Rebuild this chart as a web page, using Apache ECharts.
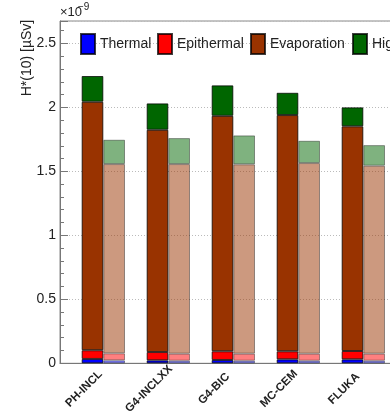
<!DOCTYPE html>
<html>
<head>
<meta charset="utf-8">
<script src="https://cdn.jsdelivr.net/npm/echarts@6/dist/echarts.min.js"></script>
<style>
html,body{margin:0;padding:0;background:#fff;overflow:hidden;width:390px;height:412px;}
#chart{width:450px;height:412px;}
</style>
</head>
<body>
<div id="chart"></div>
<script>
// Category labels (6th bin lies outside the cropped view)
var categories = ['PH-INCL', 'G4-INCLXX', 'G4-BIC', 'MC-CEM', 'FLUKA', ''];
var componentNames = ['Thermal', 'Epithermal', 'Evaporation', 'High-energy'];
// Dark (solid) stacks, values in units of 1e-9 µSv
var thermalA = [0.034, 0.023, 0.026, 0.031, 0.031];
var epithermalA = [0.068, 0.065, 0.068, 0.063, 0.065];
var evaporationA = [1.942, 1.737, 1.840, 1.846, 1.756];
var highEnergyA = [0.201, 0.206, 0.238, 0.174, 0.148];
// Light (transparent) stacks
var thermalB = [0.023, 0.020, 0.020, 0.020, 0.020];
var epithermalB = [0.055, 0.055, 0.055, 0.055, 0.055];
var evaporationB = [1.479, 1.482, 1.480, 1.490, 1.469];
var highEnergyB = [0.190, 0.203, 0.226, 0.174, 0.161];
var yTickValues = [0, 0.5, 1, 1.5, 2, 2.5];

var colors = ['#0000ff', '#ff0000', '#993300', '#006600'];
var setA = [thermalA, epithermalA, evaporationA, highEnergyA];
var setB = [thermalB, epithermalB, evaporationB, highEnergyB];

var series = [{
  name: 'spacer', type: 'bar', stack: 'z', data: categories.map(function(){return '-';}),
  silent: true, itemStyle: {color: 'transparent'}
}];
componentNames.forEach(function(n, i){
  series.push({
    name: n, type: 'bar', stack: 'a', data: setA[i],
    itemStyle: {color: colors[i], borderColor: 'rgba(0,0,0,0.75)', borderWidth: 1}
  });
});
componentNames.forEach(function(n, i){
  series.push({
    name: n, type: 'bar', stack: 'b', data: setB[i],
    itemStyle: {color: colors[i], borderColor: 'rgba(0,0,0,0.75)', borderWidth: 1, opacity: 0.5}
  });
});

var legendLefts = [80, 157, 250, 352];
var legends = componentNames.map(function(n, i){
  return {
    data: [n], left: legendLefts[i], top: 33, orient: 'horizontal',
    itemWidth: 14, itemHeight: 20, icon: 'rect', padding: 0,
    textStyle: {fontFamily: 'Liberation Sans', fontSize: 14, color: '#222'},
    selectedMode: false
  };
});

var chart = echarts.init(document.getElementById('chart'), null, {renderer: 'canvas'});
chart.setOption({
  animation: false,
  backgroundColor: '#fff',
  legend: legends,
  grid: {left: 60, top: 21, right: 0, bottom: 48.7, show: true, borderColor: '#888', borderWidth: 1,
         containLabel: false, outerBoundsMode: 'none'},
  xAxis: {
    type: 'category', data: categories, boundaryGap: true,
    axisLine: {show: true, lineStyle: {color: '#777', width: 1}},
    axisTick: {show: false},
    splitLine: {show: false},
    axisLabel: {
      interval: 0, rotate: 45, align: 'center', verticalAlign: 'middle',
      margin: 17, padding: [0, 24, 0, 0],
      fontFamily: 'Liberation Sans', fontWeight: 'bold', fontSize: 11.5, color: '#222'
    }
  },
  yAxis: {
    type: 'value', min: 0, max: 2.675, interval: 0.5,
    axisLine: {show: true, lineStyle: {color: '#777', width: 1}},
    axisTick: {show: true, inside: true, length: 8, lineStyle: {color: '#777'}},
    minorTick: {show: true, splitNumber: 5, length: 4, lineStyle: {color: '#777'}},
    splitLine: {show: true, lineStyle: {color: '#bbb', type: [1, 2], width: 1}},
    axisLabel: {
      margin: 4, fontFamily: 'Liberation Sans', fontSize: 14, color: '#222',
      formatter: function(v){
        for (var k = 0; k < yTickValues.length; k++) {
          if (Math.abs(v - yTickValues[k]) < 1e-9) return String(yTickValues[k]);
        }
        return '';
      }
    }
  },
  series: series.map(function(s){ s.barGap = '0%'; s.barCategoryGap = '0%'; return s; }),
  graphic: [
    {type: 'text', x: 27, y: 58, rotation: Math.PI/2, style: {
      text: 'H*(10) [µSv]', fontFamily: 'Liberation Sans', fontSize: 14, fill: '#222',
      align: 'center', verticalAlign: 'middle'
    }},
    {type: 'text', left: 60, top: 6, style: {
      text: '×10', fontFamily: 'Liberation Sans', fontSize: 13, fill: '#222'
    }},
    {type: 'text', left: 78, top: 2, style: {
      text: '−9', fontFamily: 'Liberation Sans', fontSize: 10, fill: '#222'
    }}
  ]
});
</script>
</body>
</html>
